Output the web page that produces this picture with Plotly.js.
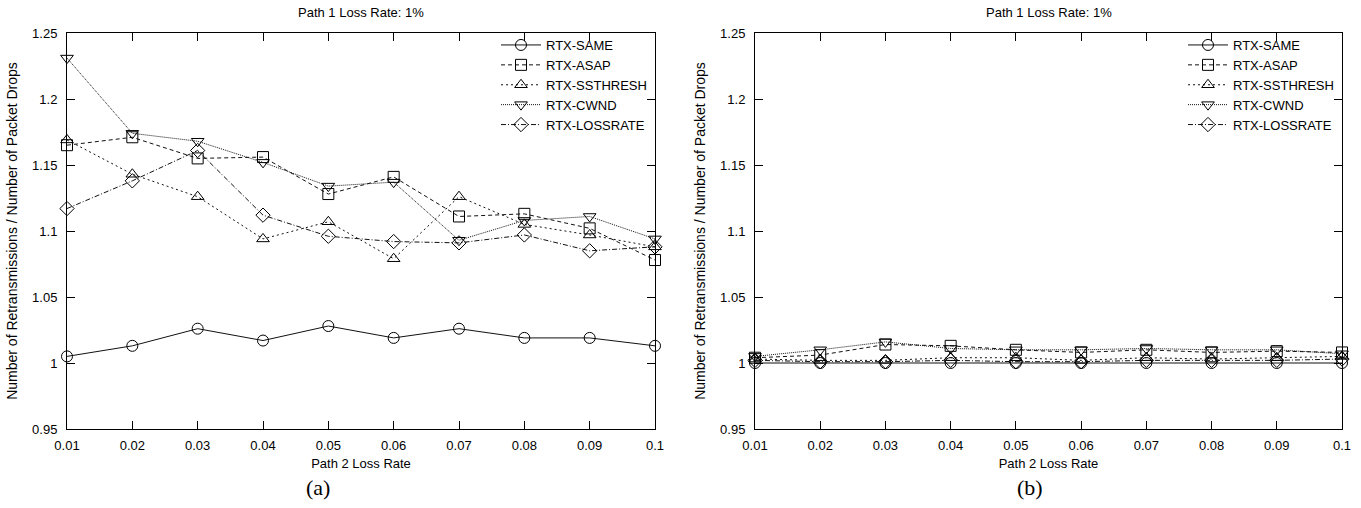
<!DOCTYPE html>
<html>
<head>
<meta charset="utf-8">
<script src="https://cdn.plot.ly/plotly-3.0.1.min.js"></script>
<style>html,body{margin:0;padding:0;background:#fff;}#chart{width:1361px;height:508px;}</style>
</head>
<body>
<div id="chart"></div>
<script>
// ---- data ----
const lossRates = [0.01, 0.02, 0.03, 0.04, 0.05, 0.06, 0.07, 0.08, 0.09, 0.1];
const xTickText = ["0.01", "0.02", "0.03", "0.04", "0.05", "0.06", "0.07", "0.08", "0.09", "0.1"];
const yTickVals = [0.95, 1, 1.05, 1.1, 1.15, 1.2, 1.25];
const yTickText = ["0.95", "1", "1.05", "1.1", "1.15", "1.2", "1.25"];
const seriesNames = ["RTX-SAME", "RTX-ASAP", "RTX-SSTHRESH", "RTX-CWND", "RTX-LOSSRATE"];

// panel (a)
const aSame     = [1.005, 1.013, 1.026, 1.017, 1.028, 1.019, 1.026, 1.019, 1.019, 1.013];
const aAsap     = [1.165, 1.171, 1.155, 1.156, 1.128, 1.141, 1.111, 1.113, 1.102, 1.078];
const aSsthresh = [1.169, 1.143, 1.126, 1.094, 1.107, 1.079, 1.126, 1.105, 1.097, 1.088];
const aCwnd     = [1.231, 1.174, 1.168, 1.152, 1.134, 1.137, 1.093, 1.108, 1.111, 1.094];
const aLossrate = [1.117, 1.138, 1.161, 1.112, 1.096, 1.092, 1.091, 1.097, 1.085, 1.088];

// panel (b)
const bSame     = [1.000, 1.000, 1.000, 1.000, 1.000, 1.000, 1.000, 1.000, 1.000, 1.000];
const bAsap     = [1.004, 1.006, 1.014, 1.013, 1.010, 1.008, 1.010, 1.008, 1.009, 1.008];
const bSsthresh = [1.003, 1.002, 1.002, 1.004, 1.004, 1.002, 1.004, 1.003, 1.004, 1.005];
const bCwnd     = [1.005, 1.010, 1.016, 1.011, 1.010, 1.010, 1.011, 1.010, 1.010, 1.007];
const bLossrate = [1.002, 1.001, 1.001, 1.002, 1.001, 1.001, 1.002, 1.002, 1.002, 1.003];

const panelTitle = "Path 1 Loss Rate: 1%";
const xTitle = "Path 2 Loss Rate";
const yTitle = "Number of Retransmissions / Number of Packet Drops";
const panelLabels = ["(a)", "(b)"];

// ---- styles ----
const styles = [
  {symbol: "circle-open",        dash: "solid"},
  {symbol: "square-open",        dash: "4px,3px"},
  {symbol: "triangle-up-open",   dash: "2px,3px"},
  {symbol: "triangle-down-open", dash: "1px,1px"},
  {symbol: "diamond-open",       dash: "5px,2px,1px,2px"}
];

const FONT = "Liberation Sans, Arial, sans-serif";
const W = 1361, H = 508;

function makeTraces(seriesList, xa, ya, legendId) {
  return seriesList.map((ys, i) => ({
    type: "scatter",
    mode: "lines+markers",
    x: lossRates,
    y: ys,
    name: seriesNames[i],
    xaxis: xa,
    yaxis: ya,
    legend: legendId,
    line: {color: "#111", width: 1, dash: styles[i].dash},
    marker: {symbol: styles[i].symbol, size: 11, color: "#000", line: {color: "#000", width: 1}},
    cliponaxis: false
  }));
}

const traces = [
  ...makeTraces([aSame, aAsap, aSsthresh, aCwnd, aLossrate], "x", "y", "legend"),
  ...makeTraces([bSame, bAsap, bSsthresh, bCwnd, bLossrate], "x2", "y2", "legend2")
];

const px = v => v / W;
const py = v => 1 - v / H;

function xAxis(domain, anchor) {
  return {
    domain: domain, anchor: anchor,
    range: [0.01, 0.1],
    tickmode: "array", tickvals: lossRates, ticktext: xTickText,
    ticks: "inside", ticklen: 8, tickwidth: 1, tickcolor: "#000",
    showline: true, linecolor: "#000", linewidth: 1, mirror: "ticks",
    showgrid: false, zeroline: false,
    ticklabelstandoff: 4,
    tickfont: {family: FONT, size: 13, color: "#000"},
    title: {text: xTitle, font: {family: FONT, size: 13, color: "#000"}, standoff: 7}
  };
}
function yAxis(domain, anchor) {
  return {
    domain: domain, anchor: anchor,
    range: [0.95, 1.25],
    tickmode: "array", tickvals: yTickVals, ticktext: yTickText,
    ticks: "inside", ticklen: 8, tickwidth: 1, tickcolor: "#000",
    showline: true, linecolor: "#000", linewidth: 1, mirror: "ticks",
    showgrid: false, zeroline: false,
    ticklabelstandoff: 6,
    tickfont: {family: FONT, size: 13, color: "#000"},
    title: {text: yTitle, font: {family: FONT, size: 14, color: "#000"}, standoff: 11}
  };
}

const xDomA = [px(67), px(655)];
const xDomB = [px(755), px(1342)];
const yDom = [py(429), py(33)];

function legendCfg(xRight) {
  return {
    x: px(xRight), xanchor: "right", y: py(30), yanchor: "top",
    bgcolor: "rgba(0,0,0,0)", borderwidth: 0,
    font: {family: FONT, size: 13, color: "#000"},
    tracegroupgap: 0, itemwidth: 40
  };
}

const layout = {
  width: W, height: H,
  margin: {l: 0, r: 0, t: 0, b: 0},
  paper_bgcolor: "#fff", plot_bgcolor: "rgba(0,0,0,0)",
  showlegend: true,
  xaxis: xAxis(xDomA, "y"),
  yaxis: yAxis(yDom, "x"),
  xaxis2: xAxis(xDomB, "y2"),
  yaxis2: yAxis(yDom, "x2"),
  legend: legendCfg(652),
  legend2: legendCfg(1339),
  annotations: [
    {text: panelTitle, xref: "paper", yref: "paper", x: px(361), y: py(13), showarrow: false,
     font: {family: FONT, size: 13, color: "#000"}, xanchor: "center", yanchor: "middle"},
    {text: panelTitle, xref: "paper", yref: "paper", x: px(1048.5), y: py(13), showarrow: false,
     font: {family: FONT, size: 13, color: "#000"}, xanchor: "center", yanchor: "middle"},
    {text: panelLabels[0], xref: "paper", yref: "paper", x: px(318), y: py(487), showarrow: false,
     font: {family: "Liberation Serif, Times New Roman, serif", size: 22, color: "#000"}, xanchor: "center", yanchor: "middle"},
    {text: panelLabels[1], xref: "paper", yref: "paper", x: px(1030), y: py(487), showarrow: false,
     font: {family: "Liberation Serif, Times New Roman, serif", size: 22, color: "#000"}, xanchor: "center", yanchor: "middle"}
  ]
};

Plotly.newPlot("chart", traces, layout, {displayModeBar: false, staticPlot: true});
</script>
</body>
</html>
